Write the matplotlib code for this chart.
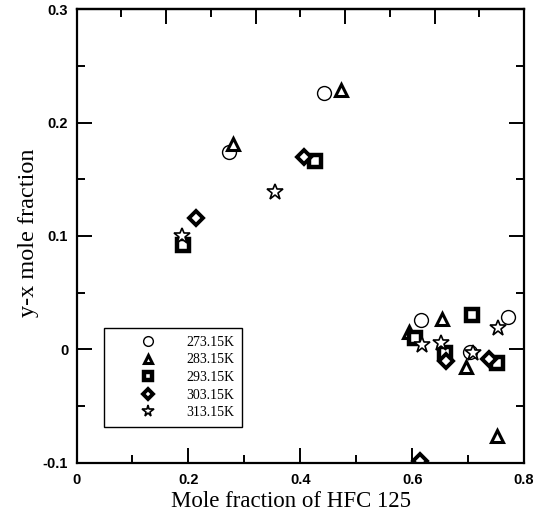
import matplotlib
matplotlib.use("Agg")
import matplotlib.pyplot as plt
from matplotlib.ticker import MultipleLocator, FixedLocator, NullFormatter

# ---- data ----
labels = ["273.15K", "283.15K", "293.15K", "303.15K", "313.15K"]

x_273 = [0.272, 0.443, 0.616, 0.703, 0.771]
y_273 = [0.174, 0.226, 0.026, -0.002, 0.029]

x_283 = [0.280, 0.472, 0.594, 0.654, 0.696, 0.752]
y_283 = [0.181, 0.229, 0.015, 0.027, -0.015, -0.0765]

x_293 = [0.191, 0.427, 0.606, 0.658, 0.707, 0.751]
y_293 = [0.092, 0.166, 0.010, -0.003, 0.030, -0.012]

x_303 = [0.214, 0.407, 0.660, 0.737, 0.614]
y_303 = [0.116, 0.170, -0.010, -0.008, -0.0986]

x_313 = [0.189, 0.355, 0.618, 0.652, 0.709, 0.753]
y_313 = [0.100, 0.139, 0.004, 0.006, -0.003, 0.019]

xticks = [0, 0.2, 0.4, 0.6, 0.8]
xticklabels = ["0", "0.2", "0.4", "0.6", "0.8"]
yticks = [-0.1, 0, 0.1, 0.2, 0.3]
yticklabels = ["-0.1", "0", "0.1", "0.2", "0.3"]
top_major = [0.16, 0.32, 0.48, 0.64]
top_minor = [0.08, 0.24, 0.40, 0.56, 0.72]

# ---- figure ----
fig = plt.figure(figsize=(5.37, 5.15), dpi=100)
ax = fig.add_axes([0.1425, 0.101, 0.8333, 0.8815])

styles = [
    dict(marker="o", ms=10, mew=1.0),
    dict(marker="^", ms=9, mew=2.2),
    dict(marker="s", ms=8.5, mew=3.2),
    dict(marker="D", ms=7, mew=2.8),
    dict(marker="*", ms=12, mew=1.2),
]
series = [(x_273, y_273), (x_283, y_283), (x_293, y_293), (x_303, y_303), (x_313, y_313)]
for (xs, ys), st, lab in zip(series, styles, labels):
    ax.plot(xs, ys, linestyle="none", mfc="white", mec="black", color="black",
            label=lab, **st)

ax.set_xlim(0, 0.8)
ax.set_ylim(-0.1, 0.3)

ax.set_xticks(xticks)
ax.set_xticklabels(xticklabels)
ax.set_yticks(yticks)
ax.set_yticklabels(yticklabels)
ax.xaxis.set_minor_locator(MultipleLocator(0.1))
ax.yaxis.set_minor_locator(MultipleLocator(0.05))

ax.tick_params(which="both", direction="in", top=False, right=True, width=1.4,
               labelsize=10.5)
ax.tick_params(which="major", length=11)
ax.tick_params(which="minor", length=6)
ax.tick_params(axis="x", pad=7)
ax.tick_params(axis="y", pad=6)
for lbl in ax.get_xticklabels() + ax.get_yticklabels():
    lbl.set_family("Liberation Sans")
    lbl.set_fontweight("bold")

for sp in ax.spines.values():
    sp.set_linewidth(1.6)

sec = ax.secondary_xaxis("top")
sec.xaxis.set_major_locator(FixedLocator(top_major))
sec.xaxis.set_minor_locator(FixedLocator(top_minor))
sec.xaxis.set_major_formatter(NullFormatter())
sec.tick_params(which="both", direction="in", width=1.4)
sec.tick_params(which="major", length=11)
sec.tick_params(which="minor", length=6)
sec.spines["top"].set_linewidth(1.6)

ax.set_xlabel("Mole fraction of HFC 125", family="Liberation Serif", fontsize=16.5)
ax.xaxis.set_label_coords(0.48, -0.061, transform=ax.transAxes)
ax.xaxis.label.set_va("top")
ax.set_ylabel("y-x mole fraction", family="Liberation Serif", fontsize=17.5,
              labelpad=1)
ax.yaxis.set_label_coords(-0.084, 0.508, transform=ax.transAxes)

leg = ax.legend(loc="upper left", bbox_to_anchor=(0.0624, 0.297),
                borderaxespad=0, frameon=True, fancybox=False, framealpha=1,
                edgecolor="black", markerscale=0.7, handlelength=5.2,
                handletextpad=0.15, labelspacing=0.33, borderpad=0.55,
                prop={"family": "Liberation Serif", "size": 10})
leg.get_frame().set_linewidth(1.0)
leg.get_frame().set_boxstyle("square", pad=0)

fig.savefig("out.png", dpi=100)
